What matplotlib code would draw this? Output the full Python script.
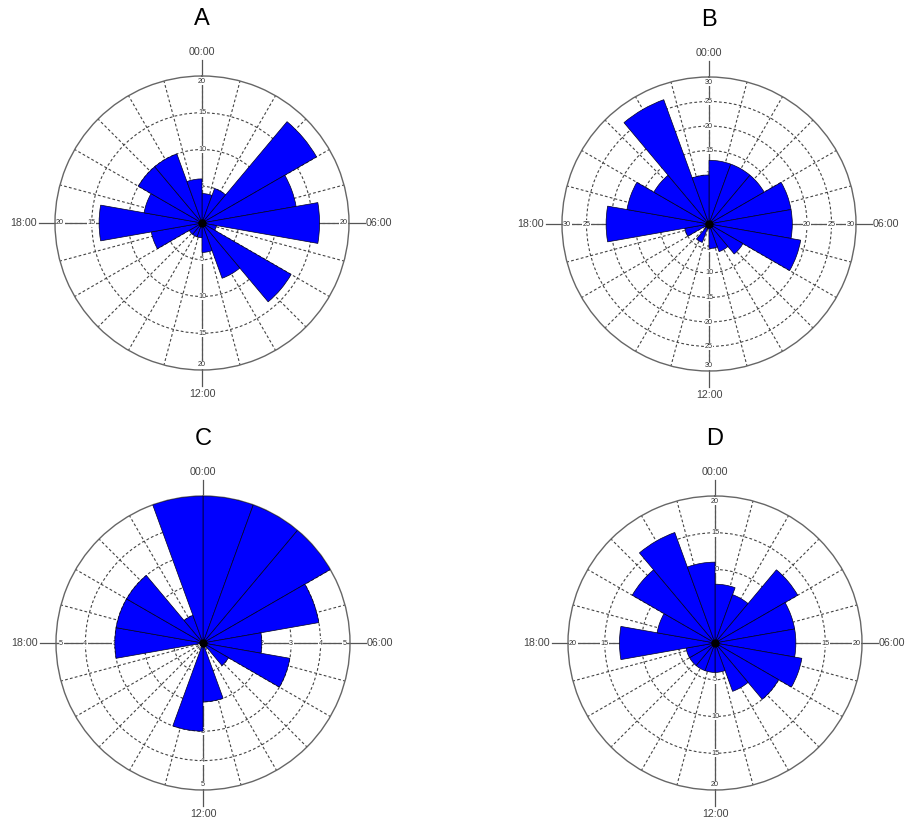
import numpy as np
import matplotlib.pyplot as plt

plt.rcParams['font.family'] = ['Liberation Sans', 'DejaVu Sans']

# hourly counts in 20 degree sectors, clockwise from 00:00
bin_start = np.arange(0, 360, 20)
counts_a = [4, 5, 18, 13, 16, 2, 14, 8, 4, 2, 2, 2, 7, 14, 8, 10, 10, 6]
counts_b = [13, 13, 13, 17, 17, 19, 8, 6, 5, 1, 4, 1, 5, 21, 17, 13, 27, 10]
counts_c = [5, 5, 5, 4, 2, 3, 1, 0, 2, 3, 0, 0, 0, 3, 3, 3, 1, 5]
counts_d = [8, 7, 13, 11, 11, 12, 10, 7, 4, 4, 4, 4, 4, 13, 8, 13, 16, 11]

titles = ["A", "B", "C", "D"]
r_max = [20, 30, 5, 20]
r_step = [5, 5, 1, 5]
hour_labels = ["00:00", "06:00", "12:00", "18:00"]

# plot centres in pixels and circle radius
W, H = 909, 821
centres = [(202, 223), (709, 224), (203, 643), (715, 643)]
R = 147

fig = plt.figure(figsize=(W / 100, H / 100), dpi=100)


def rose(ax, counts, rmax, step, title):
    ax.set_theta_zero_location('N')
    ax.set_theta_direction(-1)
    ax.set_axisbelow(True)
    theta = np.deg2rad(bin_start + 10)
    ax.bar(theta, counts, width=np.deg2rad(20), color='#0000ff',
           edgecolor='#000022', linewidth=0.5, zorder=3)
    ax.set_ylim(0, rmax)
    ax.set_yticks(np.arange(step, rmax, step))
    ax.set_yticklabels([])
    ax.set_xticks(np.deg2rad(np.arange(0, 360, 15)))
    ax.set_xticklabels([])
    ax.grid(True, color='#444444', lw=0.8, ls=(0, (2.5, 2)))
    ax.spines['polar'].set_color('#666666')
    ax.spines['polar'].set_linewidth(1.0)

    for k, ang in enumerate([0, 90, 180, 270]):
        a = np.deg2rad(ang)
        ax.plot([a, a], [0, 1.11 * rmax], color='#555555', lw=0.9,
                zorder=1, clip_on=False)
        for v in np.arange(step, rmax + step / 2, step):
            rv = v if v < rmax else rmax * 0.965
            ax.text(a, rv, str(int(v)), fontsize=5.2, color='#333333',
                    ha='center', va='center', zorder=2,
                    bbox=dict(fc='white', ec='none', pad=0.3))
        if ang == 90:
            ax.text(a, 1.115 * rmax, hour_labels[k], fontsize=7.7,
                    color='#444444', ha='left', va='center', clip_on=False)
        elif ang == 270:
            ax.text(a, 1.125 * rmax, hour_labels[k], fontsize=7.7,
                    color='#444444', ha='right', va='center', clip_on=False)
        else:
            ax.text(a, 1.165 * rmax, hour_labels[k], fontsize=7.7,
                    color='#444444', ha='center', va='center', clip_on=False)

    ax.plot(0, 0, 'o', ms=5, color='black', zorder=4)
    ax.text(0, 1.385 * rmax, title, fontsize=17, color='black',
            ha='center', va='center', clip_on=False)


all_counts = [counts_a, counts_b, counts_c, counts_d]
for i in range(4):
    cx, cy = centres[i]
    rect = [(cx - R) / W, (H - cy - R) / H, 2 * R / W, 2 * R / H]
    ax = fig.add_axes(rect, projection='polar')
    rose(ax, all_counts[i], r_max[i], r_step[i], titles[i])

fig.savefig('out.png', dpi=100, facecolor='white')
